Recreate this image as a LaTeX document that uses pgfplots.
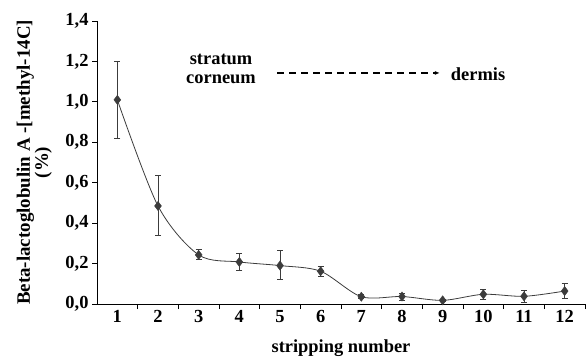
\documentclass[border=0pt]{standalone}
\usepackage{pgfplots}
\pgfplotsset{compat=1.18}
\usetikzlibrary{arrows.meta}
\usepackage{fontspec}
\setmainfont{Liberation Serif}
\definecolor{ln}{HTML}{3C3C3C}
\newcommand{\ff}{\fontsize{18.5}{19}\selectfont\bfseries}
\begin{document}
\begin{tikzpicture}
\useasboundingbox (0,0) rectangle (586bp,360bp);
\begin{axis}[
  at={(97bp,56bp)}, anchor=origin,
  scale only axis, width=488bp, height=283bp,
  xmin=0.5, xmax=12.5, ymin=0, ymax=1.4,
  axis x line=bottom, axis y line=left,
  axis line style={-, line width=0.8bp},
  xtick={1.5,2.5,...,12.5}, xticklabels={},
  extra x ticks={1,2,3,4,5,6,7,8,9,10,11,12},
  extra x tick style={major tick length=0pt, xticklabel style={font=\ff, yshift=-3bp}, /pgf/number format/precision=0},
  ytick={0,0.2,...,1.4},
  tick align=outside,
  major tick length=5bp,
  tick style={black, line width=0.8bp},
  /pgf/number format/assume math mode=true,
  yticklabel style={font=\ff, /pgf/number format/use comma, /pgf/number format/fixed,
  /pgf/number format/fixed zerofill, /pgf/number format/precision=1},
  xlabel={stripping number},
  xlabel style={font=\ff, at={(axis description cs:0.5,0)}, anchor=north, yshift=-36bp, inner sep=0pt},
  ylabel={Beta-lactoglobulin A -[methyl-14C]\\(\%)},
  ylabel style={font=\fontsize{19}{18}\selectfont\bfseries, align=center, at={(axis description cs:-0.092,0.5)}, anchor=south, inner sep=0pt},
  clip=false,
]
\addplot[ln, line width=0.8bp, smooth, tension=0.5, no marks] coordinates {
(1,1.01) (2,0.485) (3,0.243) (4,0.208) (5,0.19) (6,0.162) (7,0.036) (8,0.037) (9,0.018) (10,0.048) (11,0.038) (12,0.064)};
\addplot[ln, only marks, mark=diamond*, mark size=4.6bp, mark options={fill=ln, draw=ln},
  error bars/.cd, y dir=both, y explicit,
  error bar style={line width=0.8bp, ln},
  error mark options={rotate=90, mark size=3bp, line width=0.8bp, ln}]
coordinates {
(1,1.01) += (0,0.19) -= (0,0.19)
(2,0.485) += (0,0.15) -= (0,0.148)
(3,0.243) += (0,0.027) -= (0,0.023)
(4,0.208) += (0,0.04) -= (0,0.04)
(5,0.19) += (0,0.074) -= (0,0.068)
(6,0.162) += (0,0.026) -= (0,0.027)
(7,0.036) += (0,0.01) -= (0,0.01)
(8,0.037) += (0,0.017) -= (0,0.017)
(9,0.018) += (0,0.005) -= (0,0.005)
(10,0.048) += (0,0.025) -= (0,0.025)
(11,0.038) += (0,0.029) -= (0,0.029)
(12,0.064) += (0,0.037) -= (0,0.037)
};
\node[font=\ff, align=center] at (axis cs:3.55,1.163) {stratum\\corneum};
\draw[line width=1.3bp, dash pattern=on 7bp off 5bp, -{Latex[length=5bp,width=4bp]}] (axis cs:4.93,1.143) -- (axis cs:8.93,1.143);
\node[font=\ff] at (axis cs:9.87,1.139) {dermis};
\end{axis}
\end{tikzpicture}
\end{document}
